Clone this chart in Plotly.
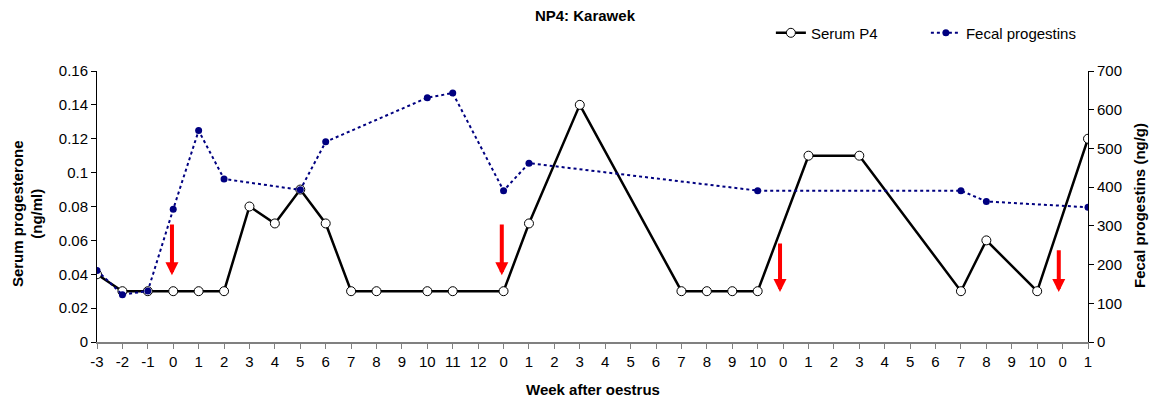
import plotly.graph_objects as go

# ---- data ----
week_labels = ["-3", "-2", "-1", "0", "1", "2", "3", "4", "5", "6", "7", "8", "9", "10", "11", "12",
               "0", "1", "2", "3", "4", "5", "6", "7", "8", "9", "10",
               "0", "1", "2", "3", "4", "5", "6", "7", "8", "9", "10",
               "0", "1"]
serum_p4 = [0.04, 0.03, 0.03, 0.03, 0.03, 0.03, 0.08, 0.07, 0.09, 0.07, 0.03, 0.03, None, 0.03, 0.03, None,
            0.03, 0.07, None, 0.14, None, None, None, 0.03, 0.03, 0.03, 0.03,
            None, 0.11, None, 0.11, None, None, None, 0.03, 0.06, None, 0.03,
            None, 0.12]
fecal_progestins = [185, 122, 132, 343, 546, 421, None, None, 393, 517, None, None, None, 631, 643, None,
                    391, 462, None, None, None, None, None, None, None, None, 391,
                    None, None, None, None, None, None, None, 391, 363, None, None,
                    None, 348]
# oestrus arrows (category position, arrow top, arrow tip) on serum axis
arrow_pos = [2.95, 15.93, 26.88, 37.85]
arrow_top = [0.0703, 0.0703, 0.059, 0.0551]
arrow_tip = [0.0394, 0.0394, 0.0295, 0.0295]

left_ticks = [0, 0.02, 0.04, 0.06, 0.08, 0.1, 0.12, 0.14, 0.16]
left_ticktext = ["0", "0.02", "0.04", "0.06", "0.08", "0.1", "0.12", "0.14", "0.16"]

xs = list(range(len(week_labels)))
FONT = "Liberation Sans, Arial, sans-serif"

fig = go.Figure()
fig.add_trace(go.Scatter(
    x=xs, y=serum_p4, name="Serum P4", mode="lines+markers", connectgaps=True,
    line=dict(color="black", width=2.5),
    marker=dict(symbol="circle", size=9, color="white", line=dict(color="black", width=1)),
    yaxis="y"))
fig.add_trace(go.Scatter(
    x=xs, y=fecal_progestins, name="Fecal progestins", mode="lines+markers", connectgaps=True,
    line=dict(color="#000080", width=2, dash="dot"),
    marker=dict(symbol="circle", size=7, color="#000080"),
    yaxis="y2"))

annotations = []
for xp, yt, yb in zip(arrow_pos, arrow_top, arrow_tip):
    annotations.append(dict(x=xp, y=yb, xref="x", yref="y", ax=xp, ay=yt, axref="x", ayref="y",
                            showarrow=True, arrowhead=2, arrowsize=0.65, arrowwidth=4,
                            arrowcolor="#FF0000", text=""))

annotations += [
    dict(text="<b>Serum progesterone<br>(ng/ml)</b>", xref="paper", yref="paper",
         x=-0.0706, y=0.472, textangle=-90, showarrow=False,
         font=dict(family=FONT, size=15, color="black"), xanchor="center", yanchor="middle"),
    dict(text="<b>Fecal progestins (ng/g)</b>", xref="paper", yref="paper",
         x=1.0525, y=0.502, textangle=-90, showarrow=False,
         font=dict(family=FONT, size=15, color="black"), xanchor="center", yanchor="middle"),
    dict(text="<b>Week after oestrus</b>", xref="paper", yref="paper",
         x=0.5007, y=-0.177, showarrow=False,
         font=dict(family=FONT, size=15, color="black"), xanchor="center", yanchor="middle"),
]

fig.update_layout(
    width=1157, height=403,
    margin=dict(l=97, r=69, t=71, b=61, pad=0),
    paper_bgcolor="white", plot_bgcolor="white",
    font=dict(family=FONT, size=15, color="black"),
    title=dict(text="<b>NP4: Karawek</b>", x=0.4924, xref="paper", xanchor="center",
               y=1 - 15.7 / 403, yref="container", yanchor="middle",
               font=dict(family=FONT, size=15, color="black")),
    showlegend=True,
    legend=dict(orientation="h", x=0.680, y=1.14, xanchor="left", yanchor="middle",
                entrywidth=110, entrywidthmode="pixels",
                font=dict(family=FONT, size=15, color="black"), bgcolor="rgba(0,0,0,0)"),
    xaxis=dict(range=[0, 39], tickmode="array", tickvals=xs, ticktext=week_labels,
               showgrid=False, zeroline=False, showline=True, linecolor="#808080", linewidth=2,
               ticks="outside", ticklen=5, tickcolor="#808080", tickwidth=1,
               tickfont=dict(family=FONT, size=15, color="black")),
    yaxis=dict(range=[0, 0.16], tickmode="array", tickvals=left_ticks, ticktext=left_ticktext,
               showgrid=False, zeroline=False, showline=True, linecolor="black", linewidth=1,
               ticks="outside", ticklen=5, tickcolor="black",
               tickfont=dict(family=FONT, size=15, color="black")),
    yaxis2=dict(range=[0, 700], tickmode="linear", tick0=0, dtick=100, overlaying="y", side="right",
                showgrid=False, zeroline=False, showline=True, linecolor="black", linewidth=1,
                ticks="outside", ticklen=5, tickcolor="black",
                tickfont=dict(family=FONT, size=15, color="black")),
    annotations=annotations,
)

fig.write_html("out.html")
